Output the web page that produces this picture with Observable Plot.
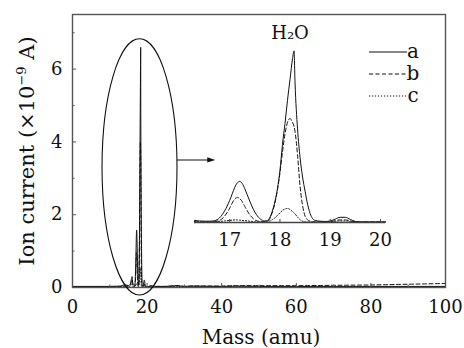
<!DOCTYPE html>
<html><head><meta charset="utf-8">
<script src="https://cdn.jsdelivr.net/npm/d3@7"></script>
<script src="https://cdn.jsdelivr.net/npm/@observablehq/plot@0.6"></script>
<style>
body{margin:0;background:#fff;}
#wrap{position:relative;width:464px;height:348px;background:#fff;}
#wrap svg{position:absolute;left:0;top:0;overflow:visible;}
</style></head><body><div id="wrap"></div>
<script>
// ---- data ----
const seriesNames = ["a", "b", "c"];
const insetMass = [16.3,16.4,16.5,16.6,16.7,16.8,16.9,17.0,17.05,17.1,17.15,17.2,17.25,17.3,17.4,17.5,17.6,17.7,17.75,17.8,17.85,17.9,17.95,18.0,18.05,18.1,18.15,18.2,18.25,18.28,18.3,18.35,18.4,18.45,18.5,18.55,18.6,18.65,18.7,18.8,18.9,19.0,19.1,19.2,19.3,19.4,19.5,19.6,19.8,20.0,20.1];
const insetA = [0.08,0.06,0.05,0.05,0.07,0.18,0.45,0.85,1.1,1.35,1.52,1.58,1.5,1.3,0.82,0.4,0.15,0.06,0.07,0.2,0.45,0.8,1.3,2.0,3.0,3.8,4.7,5.5,6.3,6.6,5.4,3.6,2.5,1.75,1.2,0.7,0.35,0.15,0.08,0.05,0.04,0.06,0.13,0.2,0.2,0.12,0.04,0.02,0.02,0.02,0.02];
const insetB = [0.03,0.02,0.02,0.02,0.04,0.08,0.25,0.55,0.75,0.9,0.96,0.92,0.8,0.62,0.3,0.1,0.04,0.03,0.05,0.15,0.4,0.75,1.25,1.9,2.7,3.4,3.85,4.0,3.85,3.7,3.5,2.6,1.4,0.65,0.25,0.1,0.05,0.03,0.02,0.02,0.02,0.03,0.07,0.1,0.1,0.06,0.03,0.02,0.02,0.02,0.02];
const insetC = [0.02,0.02,0.02,0.02,0.03,0.04,0.06,0.08,0.09,0.1,0.1,0.09,0.08,0.07,0.05,0.03,0.02,0.02,0.03,0.06,0.11,0.18,0.27,0.37,0.46,0.52,0.54,0.5,0.42,0.37,0.33,0.21,0.11,0.05,0.03,0.02,0.02,0.02,0.02,0.02,0.02,0.02,0.04,0.06,0.06,0.04,0.02,0.02,0.02,0.02,0.02];
const lowMass = [0,5,10,13,14,15,15.5,16,16.15];
const lowA = [0.03,0.03,0.03,0.04,0.08,0.05,0.1,0.3,0.12];
const lowB = [0.02,0.02,0.02,0.03,0.06,0.04,0.07,0.22,0.08];
const lowC = [0.02,0.02,0.02,0.02,0.03,0.02,0.04,0.1,0.04];
const highMass = [20.5,21,22,25,28,30,32,40,44,50,60,70,80,90,100];
const highA = [0.03,0.05,0.03,0.03,0.05,0.03,0.04,0.03,0.04,0.03,0.03,0.03,0.03,0.03,0.03];
const highB = [0.03,0.04,0.03,0.03,0.05,0.03,0.04,0.04,0.05,0.05,0.05,0.06,0.07,0.09,0.11];
const highC = [0.02,0.03,0.02,0.02,0.03,0.02,0.03,0.02,0.03,0.02,0.02,0.02,0.02,0.02,0.02];
const xTicks = [0,20,40,60,80,100];
const xMinor = [10,30,50,70,90];
const yTicks = [0,2,4,6];
const yMinor = [1,3,5,7];
const insetTicks = [17,18,19,20];
const xLabel = "Mass (amu)";
const peakLabel = "H\u2082O";

// ---- build tables ----
const build = (ms, vs, s) => ms.map((m, i) => ({mass: m, value: vs[i], series: s}));
const insetVals = {a: insetA, b: insetB, c: insetC};
const lowVals = {a: lowA, b: lowB, c: lowC};
const highVals = {a: highA, b: highB, c: highC};
const mainRows = {}, insetRows = {};
for (const s of seriesNames) {
  insetRows[s] = build(insetMass, insetVals[s], s);
  mainRows[s] = build([...lowMass, ...insetMass, ...highMass], [...lowVals[s], ...insetVals[s], ...highVals[s]], s);
}
const dash = {a: null, b: "4,2.5", c: "1.2,1.8"};
const ink = "#111";
const font = "DejaVu Serif";

const lineMarks = rows => seriesNames.map(s => Plot.line(rows[s], {
  x: "mass", y: "value", stroke: ink, strokeWidth: 1, curve: "monotone-x",
  strokeDasharray: dash[s]
}));

const main = Plot.plot({
  width: 464, height: 348,
  marginLeft: 72, marginRight: 19, marginTop: 14, marginBottom: 61,
  style: {fontFamily: font, fontSize: "18px", color: ink, background: "transparent"},
  x: {domain: [0, 100]},
  y: {domain: [0, 7.5]},
  marks: [
    ...lineMarks(mainRows),
    Plot.frame({stroke: "#555", strokeWidth: 1.4}),
    Plot.axisX(xTicks, {tickSize: -4, tickPadding: 16.5, label: null, stroke: "#555"}),
    Plot.axisX(xMinor, {tickSize: -2.5, tickFormat: () => "", label: null, stroke: "#555"}),
    Plot.axisY(yTicks, {tickSize: -4, tickPadding: 14, label: null, stroke: "#555"}),
    Plot.axisY(yMinor, {tickSize: -2.5, tickFormat: () => "", label: null, stroke: "#555"})
  ]
});

const peak = insetRows.a.reduce((p, d) => d.value > p.value ? d : p);
const inset = Plot.plot({
  width: 464, height: 348,
  marginLeft: 194, marginRight: 79, marginTop: 40, marginBottom: 126,
  style: {fontFamily: font, fontSize: "18px", color: ink, background: "transparent"},
  x: {domain: [16.3, 20.1]},
  y: {domain: [0, 7], axis: null},
  marks: [
    ...lineMarks(insetRows),
    Plot.ruleY([0], {stroke: "#444", strokeWidth: 1.3}),
    Plot.axisX(insetTicks, {tickSize: -3, tickPadding: 14, label: null, stroke: "#444"}),
    Plot.text([peak], {x: "mass", y: "value", text: () => peakLabel, dx: -4, dy: -18, fontSize: 18, fill: ink})
  ]
});

const wrap = document.getElementById("wrap");
wrap.appendChild(main);
wrap.appendChild(inset);

// ---- annotations: ellipse, arrow, legend, titles ----
const sx = main.scale("x"), sy = main.scale("y");
const X = v => sx.apply(v), Y = v => sy.apply(v);
const svg = d3.select(main);
const ell = {cx: 18.1, cy: 3.3, rx: 10.05, ry: 3.52};
svg.append("ellipse")
  .attr("cx", X(ell.cx)).attr("cy", Y(ell.cy))
  .attr("rx", X(ell.cx + ell.rx) - X(ell.cx)).attr("ry", Y(0) - Y(ell.ry))
  .attr("fill", "none").attr("stroke", ink).attr("stroke-width", 1.1);
const ay = Y(3.49), ax0 = X(ell.cx + ell.rx), ax1 = X(38.4);
svg.append("line").attr("x1", ax0).attr("x2", ax1 - 6).attr("y1", ay).attr("y2", ay)
  .attr("stroke", ink).attr("stroke-width", 1.1);
svg.append("path").attr("d", `M${ax1},${ay}L${ax1 - 8},${ay - 2.6}L${ax1 - 8},${ay + 2.6}Z`).attr("fill", ink);

const leg = svg.append("g").attr("font-family", font).attr("font-size", 20).attr("fill", ink);
seriesNames.forEach((s, i) => {
  const yy = 52 + i * 22;
  leg.append("line").attr("x1", 369).attr("x2", 407).attr("y1", yy).attr("y2", yy)
    .attr("stroke", ink).attr("stroke-width", 1).attr("stroke-dasharray", dash[s]);
  leg.append("text").attr("x", 413).attr("y", yy).attr("dy", "0.32em").text(s);
});

svg.append("text").attr("x", 261).attr("y", 337).attr("dy", "0.35em")
  .attr("text-anchor", "middle").attr("font-family", font).attr("font-size", 20).attr("fill", ink)
  .text(xLabel);
const yt = svg.append("text").attr("transform", "translate(27,151) rotate(-90)")
  .attr("text-anchor", "middle").attr("dy", "0.35em")
  .attr("font-family", font).attr("font-size", 21).attr("fill", ink);
yt.append("tspan").text("Ion current (\u00d710");
yt.append("tspan").attr("font-size", 13).attr("dy", -8).text("\u22129");
yt.append("tspan").attr("dy", 8).text(" A)");
</script></body></html>
